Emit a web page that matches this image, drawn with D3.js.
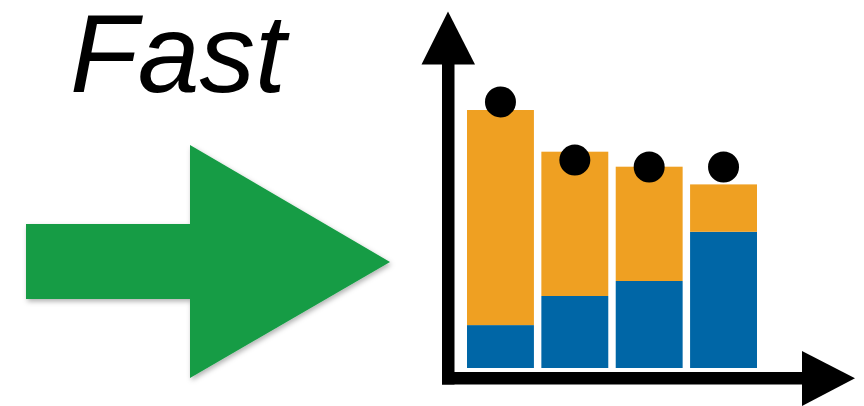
<!DOCTYPE html>
<meta charset="utf-8">
<style>
body { margin: 0; background: #fff; }
svg { display: block; }
.label {
  font: italic 111px "Liberation Sans", Arial, sans-serif;
  fill: #000;
}
</style>
<svg width="864" height="406"></svg>
<script src="https://d3js.org/d3.v7.min.js"></script>
<script>

// values (arbitrary units, 0..100)
var categories = ["A", "B", "C", "D"];
var blueValues = [14.3, 24, 29, 45.4];
var orangeValues = [71.7, 48.1, 38.1, 15.8];
var dotValues = [88.7, 69.3, 67, 67];

var svg = d3.select("svg");

// drop shadow for the green arrow
var defs = svg.append("defs");
defs.append("filter")
    .attr("id", "shadow")
    .attr("x", "-10%").attr("y", "-10%")
    .attr("width", "130%").attr("height", "130%")
  .append("feDropShadow")
    .attr("dx", 1.5).attr("dy", 2.5)
    .attr("stdDeviation", 2.5)
    .attr("flood-color", "#000")
    .attr("flood-opacity", 0.3);

// title
svg.append("text")
    .attr("class", "label")
    .attr("x", 70)
    .attr("y", 92)
    .text("Fast");

// big green arrow
svg.append("path")
    .attr("d", "M26,224 L190,224 L190,145 L390,262 L190,378 L190,299 L26,299 Z")
    .attr("fill", "#149c44")
    .attr("filter", "url(#shadow)");

// scales
var x = d3.scaleBand()
    .domain(categories)
    .range([467, 757])
    .paddingInner(0.1)
    .paddingOuter(0);

var y = d3.scaleLinear()
    .domain([0, 100])
    .range([368, 68]);

var table = categories.map(function(c, i) {
  return {cat: c, blue: blueValues[i], orange: orangeValues[i], dot: dotValues[i]};
});

var stack = d3.stack().keys(["blue", "orange"]);
var series = stack(table);
var colour = {blue: "#0066a6", orange: "#efa022"};

svg.append("g")
    .selectAll("g")
    .data(series)
    .enter().append("g")
    .attr("fill", function(d) { return colour[d.key]; })
    .selectAll("rect")
    .data(function(d) { return d; })
    .enter().append("rect")
    .attr("x", function(d) { return x(d.data.cat); })
    .attr("y", function(d) { return y(d[1]); })
    .attr("width", x.bandwidth())
    .attr("height", function(d) { return y(d[0]) - y(d[1]); });

// dots
svg.append("g")
    .selectAll("circle")
    .data(table)
    .enter().append("circle")
    .attr("cx", function(d) { return x(d.cat) + x.bandwidth() / 2; })
    .attr("cy", function(d) { return y(d.dot); })
    .attr("r", 15.5)
    .attr("fill", "#000");

// axes with arrow heads
var axes = svg.append("g").attr("fill", "#000");
axes.append("rect").attr("x", 442).attr("y", 60).attr("width", 12.5).attr("height", 324.5);
axes.append("rect").attr("x", 442).attr("y", 372).attr("width", 364).attr("height", 12.5);
axes.append("path").attr("d", "M421.5,64.5 L448,11.5 L475,64.5 Z");
axes.append("path").attr("d", "M802,351 L855,378.3 L802,406 Z");

</script>
